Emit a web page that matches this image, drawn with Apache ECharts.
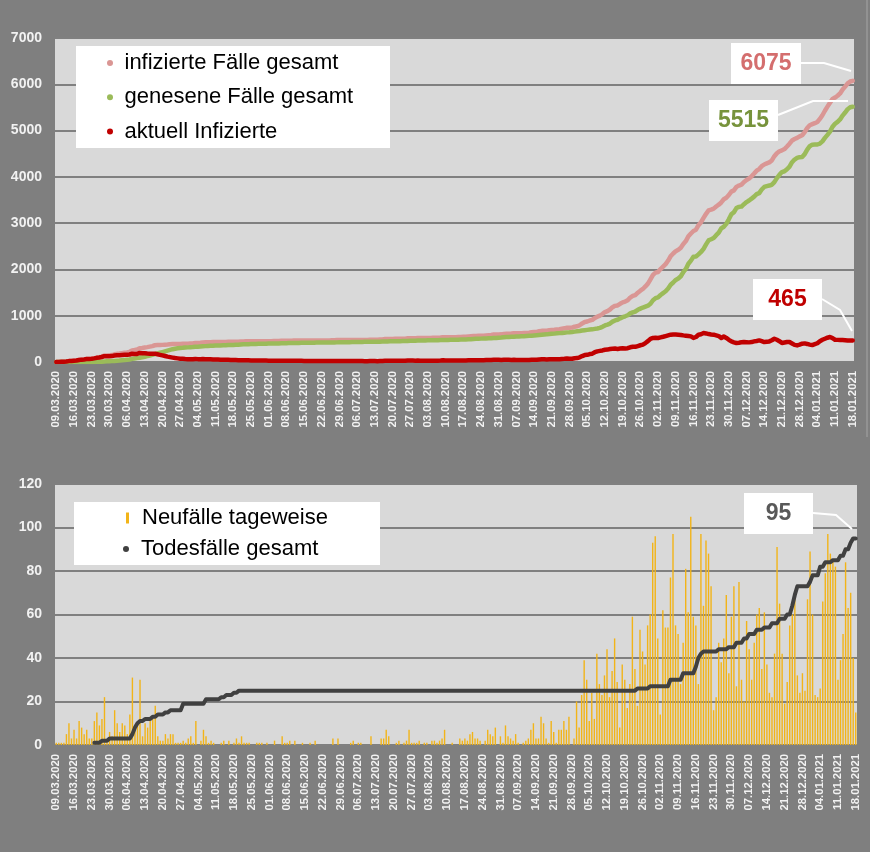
<!DOCTYPE html>
<html lang="de">
<head>
<meta charset="utf-8">
<title>Fallzahlen 09.03.2020 - 18.01.2021</title>
<style>
    html,
    body,
    #chart {
        width: 100%;
        height: 100%;
        margin: 0;
        padding: 0;
        overflow: hidden;
        background: #7f7f7f;
    }
</style>
</head>
<body>
<div id="chart"></div>
<script src="https://cdn.jsdelivr.net/npm/echarts@6/dist/echarts.min.js"></script>
<script>
    // Zeitraum: 09.03.2020 bis 18.01.2021, ein Wert pro Tag
    var firstDay = [2020, 3, 9];
    var dayCount = 316;

    // Neufaelle pro Tag (Balken unten)
    var newCases = [
        1, 1, 1, 1, 5, 10, 3, 7, 3, 11,
        8, 5, 7, 3, 3, 11, 15, 9, 12, 22,
        2, 6, 4, 16, 10, 6, 10, 9, 5, 14,
        31, 8, 10, 30, 4, 10, 8, 11, 12, 18,
        4, 2, 2, 5, 3, 5, 5, 1, 1, 1,
        2, 1, 3, 4, 1, 11, 0, 2, 7, 4,
        1, 2, 1, 0, 0, 1, 2, 0, 2, 0,
        1, 3, 1, 4, 1, 1, 1, 0, 0, 1,
        1, 1, 0, 1, 0, 0, 2, 0, 0, 4,
        1, 1, 2, 0, 2, 0, 0, 1, 0, 0,
        1, 0, 2, 0, 0, 0, 0, 0, 0, 3,
        0, 3, 0, 0, 0, 0, 1, 2, 0, 1,
        1, 0, 0, 0, 4, 0, 0, 0, 3, 3,
        7, 4, 0, 0, 1, 2, 0, 1, 2, 7,
        1, 1, 1, 2, 0, 1, 1, 0, 2, 2,
        1, 2, 3, 7, 0, 0, 1, 0, 0, 3,
        2, 3, 2, 5, 6, 3, 3, 2, 0, 2,
        7, 5, 4, 8, 0, 4, 1, 9, 4, 3,
        2, 5, 1, 0, 1, 2, 3, 7, 10, 3,
        3, 13, 10, 3, 1, 11, 6, 1, 7, 7,
        11, 7, 13, 0, 3, 20, 8, 23, 39, 30,
        11, 24, 12, 42, 28, 23, 32, 44, 22, 34,
        49, 29, 8, 37, 30, 17, 28, 59, 35, 18,
        53, 43, 37, 55, 60, 93, 96, 49, 14, 62,
        54, 54, 77, 97, 55, 51, 28, 47, 81, 61,
        105, 59, 55, 28, 97, 64, 94, 88, 73, 16,
        22, 47, 38, 49, 69, 33, 59, 73, 27, 75,
        30, 20, 57, 44, 30, 47, 60, 63, 35, 61,
        37, 24, 22, 42, 91, 65, 42, 19, 29, 55,
        60, 69, 32, 24, 33, 25, 67, 89, 60, 23,
        22, 26, 66, 79, 97, 88, 85, 82, 30, 39,
        51, 84, 63, 70, 40, 15
    ];

    // neue Todesfaelle pro Tag
    var newDeaths = [
        0, 0, 0, 0, 0, 0, 0, 0, 0, 0, 0, 0, 0, 0, 0, 1, 0, 0, 1, 0,
        0, 1, 0, 0, 0, 0, 0, 0, 0, 0, 2, 3, 2, 1, 0, 1, 0, 0, 1, 0,
        1, 0, 0, 1, 0, 1, 0, 0, 0, 0, 3, 0, 0, 0, 0, 0, 0, 0, 0, 2,
        0, 0, 0, 0, 0, 1, 0, 1, 0, 0, 1, 0, 1, 0, 0, 0, 0, 0, 0, 0,
        0, 0, 0, 0, 0, 0, 0, 0, 0, 0, 0, 0, 0, 0, 0, 0, 0, 0, 0, 0,
        0, 0, 0, 0, 0, 0, 0, 0, 0, 0, 0, 0, 0, 0, 0, 0, 0, 0, 0, 0,
        0, 0, 0, 0, 0, 0, 0, 0, 0, 0, 0, 0, 0, 0, 0, 0, 0, 0, 0, 0,
        0, 0, 0, 0, 0, 0, 0, 0, 0, 0, 0, 0, 0, 0, 0, 0, 0, 0, 0, 0,
        0, 0, 0, 0, 0, 0, 0, 0, 0, 0, 0, 0, 0, 0, 0, 0, 0, 0, 0, 0,
        0, 0, 0, 0, 0, 0, 0, 0, 0, 0, 0, 0, 0, 0, 0, 0, 0, 0, 0, 0,
        0, 0, 0, 0, 0, 0, 0, 0, 0, 0, 0, 0, 0, 0, 0, 0, 0, 0, 0, 0,
        0, 0, 0, 0, 0, 0, 0, 0, 0, 1, 0, 0, 0, 0, 1, 0, 0, 0, 0, 0,
        0, 0, 3, 0, 0, 0, 0, 3, 0, 0, 0, 0, 3, 4, 2, 1, 0, 0, 0, 0,
        0, 1, 0, 0, 0, 1, 0, 0, 2, 0, 0, 2, 0, 2, 0, 0, 2, 0, 0, 1,
        0, 0, 2, 0, 0, 2, 0, 0, 2, 0, 4, 5, 4, 0, 0, 0, 0, 2, 3, 0,
        0, 4, 0, 2, 0, 0, 1, 0, 0, 2, 0, 3, 0, 3, 2, 0
    ];

    // aktuell Infizierte je Tag (rote Linie)
    var activeCases = [
        1, 2, 3, 4, 9, 19, 22, 29, 32, 43,
        51, 56, 63, 66, 69, 78, 90, 98, 108, 126,
        124, 126, 128, 140, 146, 148, 152, 155, 155, 163,
        178, 175, 175, 195, 190, 188, 183, 180, 178, 180,
        168, 155, 142, 130, 116, 105, 95, 85, 78, 72,
        68, 64, 62, 62, 60, 66, 62, 60, 63, 62,
        60, 58, 56, 54, 52, 50, 49, 47, 46, 44,
        43, 42, 40, 40, 38, 37, 36, 35, 34, 33,
        32, 31, 30, 30, 29, 28, 28, 27, 27, 28,
        27, 27, 27, 26, 26, 25, 25, 25, 24, 24,
        24, 23, 24, 23, 22, 22, 21, 21, 20, 22,
        22, 24, 23, 22, 21, 20, 20, 21, 20, 20,
        20, 19, 18, 18, 21, 20, 19, 18, 20, 22,
        27, 29, 28, 27, 27, 28, 27, 26, 27, 32,
        31, 30, 29, 30, 28, 27, 27, 26, 27, 28,
        28, 29, 31, 36, 35, 34, 33, 32, 31, 33,
        33, 34, 34, 36, 39, 39, 39, 38, 36, 36,
        41, 43, 44, 48, 46, 46, 44, 48, 47, 46,
        45, 47, 45, 43, 42, 41, 41, 44, 50, 49,
        48, 56, 60, 58, 55, 60, 60, 57, 58, 60,
        66, 68, 75, 72, 70, 82, 84, 100, 128, 150,
        155, 172, 180, 212, 230, 240, 250, 265, 268, 280,
        287, 290, 283, 290, 295, 292, 298, 318, 330, 328,
        345, 362, 375, 410, 450, 500, 520, 525, 520, 532,
        545, 560, 575, 590, 596, 592, 589, 585, 575, 568,
        562, 553, 520, 540, 589, 600, 625, 618, 603, 595,
        590, 575, 560, 517, 550, 520, 480, 445, 425, 410,
        415, 425, 431, 428, 424, 430, 445, 455, 467, 450,
        431, 438, 445, 470, 503, 480, 450, 410, 420, 431,
        431, 400, 370, 359, 375, 395, 402, 390, 375, 365,
        385, 405, 450, 480, 503, 525, 539, 515, 481, 478,
        475, 474, 470, 465, 462, 465
    ];

    var topNames = ['infizierte Fälle gesamt', 'genesene Fälle gesamt', 'aktuell Infizierte'];
    var bottomNames = ['Neufälle tageweise', 'Todesfälle gesamt'];

    var font = '"Liberation Sans", Arial, sans-serif';

    function pad(n) {
        return (n < 10 ? '0' : '') + n;
    }

    // Kategorien: alle Tage des Zeitraums
    var days = [];
    for (var i = 0; i < dayCount; i++) {
        var d = new Date(Date.UTC(firstDay[0], firstDay[1] - 1, firstDay[2] + i));
        days.push(pad(d.getUTCDate()) + '.' + pad(d.getUTCMonth() + 1) + '.' + d.getUTCFullYear());
    }

    // Summenkurven aus den Tageswerten
    var infected = [], deathsTotal = [], recovered = [];
    var sumCases = 0, sumDeaths = 0;
    for (var i = 0; i < dayCount; i++) {
        sumCases += newCases[i];
        sumDeaths += newDeaths[i];
        infected.push(sumCases);
        deathsTotal.push(sumDeaths > 0 ? sumDeaths : '-');
        recovered.push(sumCases - activeCases[i] - sumDeaths);
    }
    var last = dayCount - 1;

    function xAxisFor(idx) {
        return {
            type: 'category',
            gridIndex: idx,
            data: days,
            boundaryGap: true,
            axisLine: { show: false },
            axisTick: { show: false },
            axisLabel: {
                interval: 6,
                rotate: 90,
                margin: 9,
                color: '#f2f2f2',
                fontWeight: 'bold',
                fontSize: 11.3,
                fontFamily: font
            }
        };
    }

    function yAxisFor(idx, max, step) {
        return {
            type: 'value',
            gridIndex: idx,
            min: 0,
            max: max,
            interval: step,
            axisLine: { show: false },
            axisTick: { show: false },
            axisLabel: {
                margin: 13,
                color: '#f2f2f2',
                fontWeight: 'bold',
                fontSize: 14,
                fontFamily: font,
                formatter: function (v) { return String(v); }
            },
            splitLine: { lineStyle: { color: '#808080', width: 2 } }
        };
    }

    function valueBox(cx, cy, w, h, text, color) {
        return {
            type: 'group',
            z: 20,
            children: [{
                type: 'rect',
                shape: { x: cx - w / 2, y: cy - h / 2, width: w, height: h },
                style: { fill: '#ffffff' },
                z: 20
            }, {
                type: 'text',
                x: cx,
                y: cy,
                style: {
                    text: text,
                    fill: color,
                    font: 'bold 23px ' + font,
                    align: 'center',
                    verticalAlign: 'middle'
                },
                z: 21
            }]
        };
    }

    function leader(points) {
        return {
            type: 'polyline',
            z: 20,
            shape: { points: points },
            style: { stroke: '#ffffff', lineWidth: 2, fill: null }
        };
    }

    var legendText = { fontSize: 22, color: '#000000', fontFamily: font, lineHeight: 22, padding: [0, 0, 0, 5] };

    var myChart = echarts.init(document.getElementById('chart'));
    var option = {
        animation: false,
        backgroundColor: '#7f7f7f',
        grid: [
            { left: 55, top: 38, width: 799, height: 324, show: true, backgroundColor: '#d9d9d9', borderWidth: 0 },
            { left: 55, top: 484, width: 802, height: 261, show: true, backgroundColor: '#d9d9d9', borderWidth: 0 }
        ],
        xAxis: [xAxisFor(0), xAxisFor(1)],
        yAxis: [yAxisFor(0, 7000, 1000), yAxisFor(1, 120, 20)],
        legend: [{
            data: topNames,
            orient: 'vertical',
            left: 107,
            top: 52,
            padding: 0,
            itemGap: 12.3,
            itemWidth: 9,
            itemHeight: 6,
            icon: 'circle',
            selectedMode: false,
            textStyle: legendText
        }, {
            data: [bottomNames[0]],
            left: 126,
            top: 507,
            padding: 0,
            itemWidth: 3,
            itemHeight: 11,
            icon: 'rect',
            selectedMode: false,
            textStyle: { fontSize: 22, color: '#000000', fontFamily: font, lineHeight: 22, padding: [0, 0, 0, 8] }
        }, {
            data: [bottomNames[1]],
            left: 123,
            top: 538,
            padding: 0,
            itemWidth: 8,
            itemHeight: 6,
            icon: 'circle',
            selectedMode: false,
            textStyle: { fontSize: 22, color: '#000000', fontFamily: font, lineHeight: 22, padding: [0, 0, 0, 6] }
        }],
        graphic: [
            { type: 'line', shape: { x1: 867, y1: 0, x2: 867, y2: 437 }, style: { stroke: '#a6a6a6', lineWidth: 1 } },
            { type: 'rect', z: 3, shape: { x: 76, y: 46, width: 314, height: 102 }, style: { fill: '#ffffff' } },
            { type: 'rect', z: 3, shape: { x: 74, y: 502, width: 306, height: 63 }, style: { fill: '#ffffff' } },
            leader([[801, 63], [824, 63], [851, 71]]),
            valueBox(766, 63.5, 70, 41, String(infected[last]), '#d46e6e'),
            leader([[778, 115], [813, 101], [848, 101]]),
            valueBox(743.5, 120.5, 69, 41, String(recovered[last]), '#77933c'),
            leader([[822, 299], [840, 310], [852, 331]]),
            valueBox(787.5, 299.5, 69, 41, String(activeCases[last]), '#c00000'),
            leader([[813, 513], [836, 515], [852, 529]]),
            valueBox(778.5, 513.5, 69, 41, String(deathsTotal[last]), '#595959')
        ],
        series: [{
            name: topNames[0],
            type: 'line',
            xAxisIndex: 0,
            yAxisIndex: 0,
            data: infected,
            showSymbol: false,
            color: '#da9694',
            lineStyle: { width: 4.5, cap: 'round', join: 'round' },
            z: 2
        }, {
            name: topNames[1],
            type: 'line',
            xAxisIndex: 0,
            yAxisIndex: 0,
            data: recovered,
            showSymbol: false,
            color: '#9bbb59',
            lineStyle: { width: 4.5, cap: 'round', join: 'round' },
            z: 3
        }, {
            name: topNames[2],
            type: 'line',
            xAxisIndex: 0,
            yAxisIndex: 0,
            data: activeCases,
            showSymbol: false,
            color: '#c00000',
            lineStyle: { width: 4.5, cap: 'round', join: 'round' },
            z: 4
        }, {
            name: bottomNames[0],
            type: 'bar',
            xAxisIndex: 1,
            yAxisIndex: 1,
            data: newCases,
            barWidth: '55%',
            color: '#f2b418',
            z: 2
        }, {
            name: bottomNames[1],
            type: 'line',
            xAxisIndex: 1,
            yAxisIndex: 1,
            data: deathsTotal,
            showSymbol: false,
            color: '#404040',
            lineStyle: { width: 4, cap: 'round', join: 'round' },
            z: 3
        }]
    };
    myChart.setOption(option);
</script>
</body>
</html>
